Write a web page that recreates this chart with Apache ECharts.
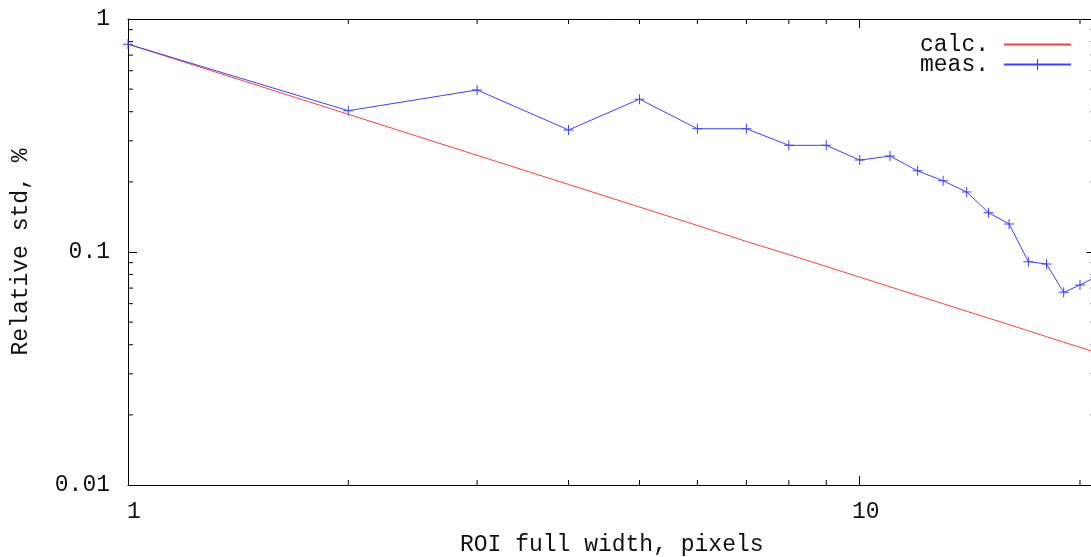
<!DOCTYPE html>
<html><head><meta charset="utf-8">
<script src="https://cdn.jsdelivr.net/npm/echarts@6/dist/echarts.min.js"></script>
<style>html,body{margin:0;padding:0;background:#fff}#c{width:1091px;height:557px}</style>
</head><body><div id="c"></div>
<script>
const widths = [1,2,3,4,5,6,7,8,9,10,11,12,13,14,15,16,17,18,19,20,21];
const calcValues = [0.78,0.39,0.26,0.195,0.156,0.13,0.111,0.0975,0.0867,0.078,0.0709,0.065,0.06,0.0557,0.052,0.0488,0.0459,0.0433,0.041,0.039,0.0371];
const measValues = [0.78,0.404,0.496,0.334,0.453,0.338,0.338,0.287,0.287,0.248,0.258,0.223,0.202,0.181,0.1475,0.132,0.0909,0.0888,0.0671,0.0722,0.078];
const xTickLabels = {0:'1',1:'10'};
const yTickLabels = {'-2':'0.01','-1':'0.1','0':'1'};
const xMinorTicks = [2,3,4,5,6,7,8,9,20];
const yMinorTicks = [0.02,0.03,0.04,0.05,0.06,0.07,0.08,0.09,0.2,0.3,0.4,0.5,0.6,0.7,0.8,0.9];

const FONT = 'Liberation Mono';
const FS = 23;
const chart = echarts.init(document.getElementById('c'), null, {renderer:'canvas'});
const plus = 'path://M0,4.5H10V5.5H0Z M4.5,0H5.5V10H4.5Z';
const RED = '#ff4040', BLUE = '#4040ff';
const axisCommon = {
  type:'log', logBase:10,
  axisLine:{show:true, lineStyle:{color:'#000', width:1}},
  axisTick:{show:true, inside:true, length:9, lineStyle:{color:'#000'}},
  splitLine:{show:false}, minorTick:{show:false}, minorSplitLine:{show:false}
};
const txt = {fontFamily:FONT, fontSize:FS, color:'#111'};
chart.setOption({
  animation:false,
  backgroundColor:'#fff',
  grid:{left:128, top:19, bottom:72, right:-4.5, containLabel:false, outerBoundsMode:'none'},
  legend:{
    data:[{name:'calc.', itemStyle:{opacity:0}}, {name:'meas.'}], orient:'vertical', right:14, top:28, align:'right',
    itemWidth:67, itemHeight:14, itemGap:-3,
    textStyle:Object.assign({padding:[0,10,0,0]}, txt)
  },
  xAxis:[
    Object.assign({}, axisCommon, {min:1, max:21, interval:1, position:'bottom',
      name:'ROI full width, pixels', nameLocation:'middle', nameGap:48, nameTextStyle:txt,
      axisLabel:Object.assign({margin:15, padding:[0,0,0,12], showMaxLabel:false,
        formatter:v=>{const k=Math.round(Math.log10(v)); return Math.abs(Math.log10(v)-k)<1e-6 && xTickLabels[k]!==undefined ? xTickLabels[k] : '';}}, txt)}),
    Object.assign({}, axisCommon, {min:1, max:21, interval:1, position:'top', axisLabel:{show:false}})
  ],
  yAxis:[
    Object.assign({}, axisCommon, {min:0.01, max:1, interval:1, position:'left',
      name:'Relative std, %', nameLocation:'middle', nameGap:96, nameRotate:90, nameTextStyle:txt,
      axisLabel:Object.assign({margin:18, padding:[6,0,0,0],
        formatter:v=>{const k=Math.round(Math.log10(v)); return yTickLabels[String(k)]||'';}}, txt)}),
    Object.assign({}, axisCommon, {min:0.01, max:1, interval:1, position:'right', axisLabel:{show:false}})
  ],
  series:[
    {name:'calc.', type:'line', xAxisIndex:0, yAxisIndex:0,
     data:widths.map((w,i)=>[w,calcValues[i]]), symbol:'none', showSymbol:false,
     color:RED, lineStyle:{color:RED, width:1}, clip:true},
    {name:'meas.', type:'line', xAxisIndex:0, yAxisIndex:0,
     data:widths.map((w,i)=>[w,measValues[i]]), symbol:plus, symbolSize:10, showSymbol:true,
     color:BLUE, itemStyle:{color:BLUE}, lineStyle:{color:BLUE, width:1}, clip:true},
    {type:'custom', xAxisIndex:0, yAxisIndex:0, silent:true, clip:false,
     data:xMinorTicks.map(v=>[v,0.1]),
     renderItem:(params, api)=>{
       const cs = params.coordSys; const px = api.coord([api.value(0), 0.1])[0];
       const st = {stroke:'#000', lineWidth:1};
       return {type:'group', children:[
         {type:'line', shape:{x1:px,y1:cs.y+cs.height,x2:px,y2:cs.y+cs.height-5}, style:st},
         {type:'line', shape:{x1:px,y1:cs.y,x2:px,y2:cs.y+5}, style:st}
       ]};
     }},
    {type:'custom', xAxisIndex:0, yAxisIndex:0, silent:true, clip:false,
     data:yMinorTicks.map(v=>[2,v]),
     renderItem:(params, api)=>{
       const cs = params.coordSys; const py = api.coord([2, api.value(1)])[1];
       const st = {stroke:'#000', lineWidth:1};
       return {type:'group', children:[
         {type:'line', shape:{x1:cs.x,y1:py,x2:cs.x+5,y2:py}, style:st},
         {type:'line', shape:{x1:cs.x+cs.width,y1:py,x2:cs.x+cs.width-5,y2:py}, style:st}
       ]};
     }}
  ]
});
</script></body></html>
